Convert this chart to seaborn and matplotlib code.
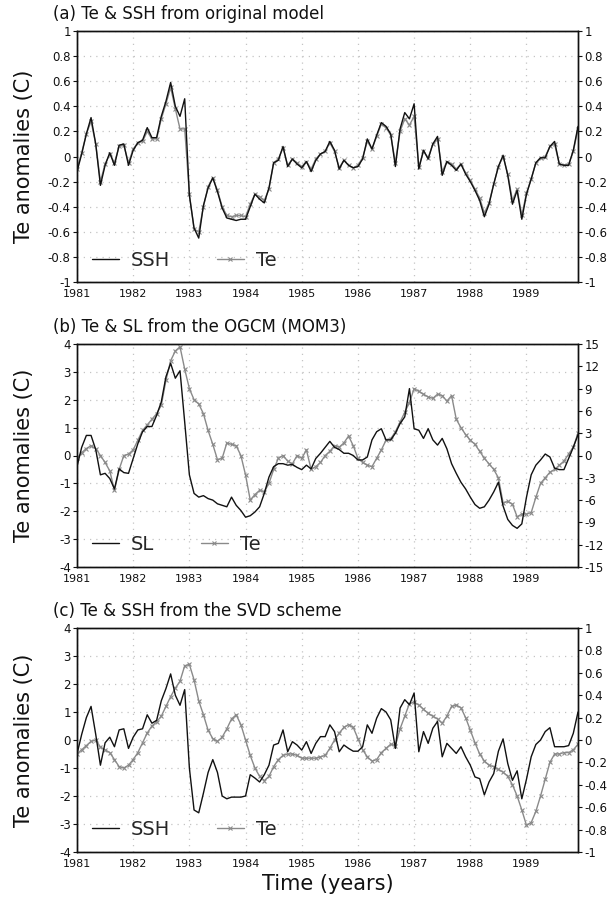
import numpy as np
import pandas as pd
import matplotlib
matplotlib.use("Agg")
import matplotlib.pyplot as plt
from matplotlib.ticker import FuncFormatter
import seaborn as sns

# ---------------- data (monthly, Jan 1981 - Dec 1989) ----------------
year_ticks = [1981, 1982, 1983, 1984, 1985, 1986, 1987, 1988, 1989]
year_labels = [str(y) for y in year_ticks]
month_index = np.arange(108)
time = 1981 + month_index / 12.0

# panel (a): Te & SSH from original model (same scale on both axes)
ssh_a = [-0.12, 0.02, 0.18, 0.31, 0.10, -0.23, -0.07, 0.03, -0.07, 0.09, 0.10, -0.07,
         0.05, 0.11, 0.13, 0.23, 0.15, 0.15, 0.32, 0.44, 0.59, 0.40, 0.32, 0.46,
         -0.31, -0.57, -0.65, -0.39, -0.25, -0.17, -0.28, -0.41, -0.49, -0.50, -0.51, -0.50,
         -0.50, -0.40, -0.30, -0.34, -0.37, -0.25, -0.05, -0.03, 0.08, -0.08, -0.02, -0.06,
         -0.09, -0.04, -0.12, -0.03, 0.02, 0.04, 0.12, 0.05, -0.10, -0.03, -0.07, -0.09,
         -0.08, -0.02, 0.14, 0.06, 0.17, 0.27, 0.24, 0.18, -0.08, 0.22, 0.35, 0.30,
         0.42, -0.10, 0.05, -0.02, 0.10, 0.16, -0.15, -0.04, -0.07, -0.11, -0.06, -0.14,
         -0.20, -0.27, -0.35, -0.48, -0.38, -0.22, -0.08, 0.01, -0.15, -0.38, -0.27, -0.50,
         -0.30, -0.18, -0.05, -0.01, -0.01, 0.08, 0.12, -0.06, -0.07, -0.07, 0.05, 0.24]
te_a = [-0.10, 0.03, 0.18, 0.28, 0.10, -0.20, -0.06, 0.02, -0.05, 0.08, 0.09, -0.05,
        0.06, 0.11, 0.12, 0.20, 0.14, 0.14, 0.30, 0.42, 0.55, 0.38, 0.22, 0.22,
        -0.30, -0.58, -0.60, -0.40, -0.24, -0.17, -0.27, -0.40, -0.47, -0.48, -0.47, -0.47,
        -0.48, -0.38, -0.30, -0.32, -0.35, -0.26, -0.05, -0.02, 0.07, -0.07, -0.02, -0.05,
        -0.08, -0.04, -0.10, -0.02, 0.02, 0.04, 0.11, 0.04, -0.09, -0.03, -0.07, -0.09,
        -0.07, -0.01, 0.12, 0.06, 0.16, 0.26, 0.23, 0.17, -0.05, 0.20, 0.30, 0.25,
        0.32, -0.08, 0.04, -0.01, 0.10, 0.14, -0.12, -0.04, -0.06, -0.10, -0.06, -0.13,
        -0.19, -0.26, -0.33, -0.45, -0.37, -0.22, -0.08, 0.00, -0.14, -0.35, -0.26, -0.47,
        -0.29, -0.18, -0.05, -0.01, 0.00, 0.08, 0.10, -0.06, -0.07, -0.06, 0.04, 0.22]

# panel (b): Te (left axis, C) & SL (right axis) from the OGCM (MOM3)
te_b = [-0.1, 0.1, 0.25, 0.35, 0.25, 0.0, -0.25, -0.55, -1.25, -0.5, 0.0, 0.05,
        0.2, 0.55, 0.9, 1.1, 1.3, 1.5, 1.8, 2.7, 3.4, 3.75, 3.9, 3.1,
        2.4, 2.0, 1.85, 1.5, 0.9, 0.4, -0.15, -0.1, 0.45, 0.4, 0.35, 0.0,
        -0.7, -1.6, -1.4, -1.25, -1.3, -1.0, -0.5, -0.1, 0.0, -0.2, -0.3, 0.0,
        -0.1, 0.2, -0.5, -0.4, -0.25, 0.0, 0.15, 0.35, 0.3, 0.45, 0.7, 0.35,
        -0.1, -0.25, -0.35, -0.4, -0.1, 0.2, 0.55, 0.6, 0.85, 1.2, 1.55, 1.9,
        2.4, 2.3, 2.2, 2.1, 2.05, 2.2, 2.15, 1.95, 2.15, 1.3, 1.0, 0.75,
        0.55, 0.4, 0.15, -0.1, -0.3, -0.5, -0.8, -1.7, -1.65, -1.75, -2.2, -2.1,
        -2.1, -2.05, -1.5, -1.0, -0.8, -0.6, -0.5, -0.35, -0.2, 0.05, 0.3, 0.8]
sl_b = [-1.5, 1.1, 2.7, 2.7, 0.8, -2.6, -2.4, -3.1, -4.5, -1.8, -2.3, -2.4,
        -0.4, 1.6, 3.2, 3.9, 3.9, 5.4, 7.2, 10.6, 12.4, 10.4, 11.4, 4.5,
        -2.6, -5.1, -5.6, -5.4, -5.8, -6.0, -6.5, -6.7, -6.9, -5.6, -6.7, -7.4,
        -8.3, -8.1, -7.6, -6.9, -5.1, -2.9, -1.5, -1.1, -1.1, -1.3, -1.2, -1.6,
        -1.9, -1.3, -1.8, -0.4, 0.3, 1.1, 1.9, 1.1, 0.8, 0.3, 0.3, 0.0,
        -0.6, -0.6, -0.2, 2.1, 3.2, 3.6, 2.1, 2.1, 3.0, 4.3, 5.2, 9.0,
        3.6, 3.4, 2.3, 3.6, 2.1, 1.4, 2.3, 0.9, -1.1, -2.4, -3.6, -4.5,
        -5.6, -6.6, -7.1, -6.9, -6.0, -4.9, -3.6, -6.8, -8.6, -9.4, -9.8, -9.2,
        -5.6, -2.6, -1.3, -0.6, 0.2, -0.2, -1.7, -1.9, -1.9, -0.4, 1.1, 2.8]

# panel (c): Te (left axis, C) & SSH (right axis) from the SVD scheme
te_c = [-0.5, -0.35, -0.2, -0.05, 0.0, -0.25, -0.35, -0.45, -0.7, -0.95, -1.0, -0.9,
        -0.7, -0.45, -0.1, 0.25, 0.5, 0.65, 0.85, 1.2, 1.55, 1.85, 2.1, 2.65,
        2.7, 2.15, 1.4, 0.9, 0.35, 0.05, -0.05, 0.1, 0.4, 0.75, 0.9, 0.55,
        0.0, -0.55, -1.0, -1.3, -1.45, -1.3, -0.95, -0.7, -0.55, -0.5, -0.5, -0.55,
        -0.65, -0.65, -0.65, -0.65, -0.6, -0.55, -0.3, 0.0, 0.25, 0.45, 0.55, 0.45,
        0.05, -0.35, -0.6, -0.75, -0.7, -0.45, -0.3, -0.15, -0.2, 0.4, 0.85, 1.3,
        1.35, 1.25, 1.1, 0.95, 0.85, 0.75, 0.6, 0.85, 1.2, 1.25, 1.15, 0.8,
        0.35, -0.1, -0.5, -0.75, -0.9, -0.95, -1.05, -1.15, -1.3, -1.6, -2.0, -2.5,
        -3.05, -2.95, -2.55, -2.0, -1.4, -0.8, -0.5, -0.5, -0.45, -0.45, -0.35, -0.15]
ssh_c = [-0.125, 0.05, 0.2, 0.3, 0.05, -0.225, -0.025, 0.025, -0.06, 0.09, 0.1, -0.075,
         0.025, 0.09, 0.1, 0.225, 0.15, 0.175, 0.35, 0.46, 0.59, 0.4, 0.31, 0.45,
         -0.25, -0.625, -0.65, -0.475, -0.29, -0.175, -0.29, -0.5, -0.525, -0.51, -0.51, -0.51,
         -0.5, -0.31, -0.34, -0.375, -0.31, -0.225, -0.045, -0.03, 0.09, -0.105, -0.015, -0.045,
         -0.09, -0.015, -0.12, -0.03, 0.03, 0.03, 0.135, 0.075, -0.105, -0.045, -0.075, -0.1,
         -0.1, -0.06, 0.135, 0.06, 0.195, 0.28, 0.25, 0.18, -0.075, 0.285, 0.36, 0.315,
         0.42, -0.105, 0.075, -0.03, 0.105, 0.165, -0.15, -0.03, -0.075, -0.12, -0.06, -0.15,
         -0.225, -0.33, -0.345, -0.49, -0.375, -0.3, -0.1, 0.01, -0.21, -0.36, -0.275, -0.525,
         -0.35, -0.15, -0.04, 0.0, 0.075, 0.11, -0.06, -0.06, -0.06, -0.05, 0.06, 0.25]

titles = ["(a) Te & SSH from original model",
          "(b) Te & SL from the OGCM (MOM3)",
          "(c) Te & SSH from the SVD scheme"]
ylabel_text = "Te anomalies (C)"
xlabel_text = "Time (years)"

# ---------------- figure ----------------
sns.set_theme(style="white")
plt.rcParams["font.family"] = ["DejaVu Sans"]
plt.rcParams["axes.unicode_minus"] = False

W, H = 614, 906
fig = plt.figure(figsize=(W / 100, H / 100), dpi=100)

ax_left_px, ax_right_px = 77, 578
panels_px = [(31, 282), (344, 567), (628, 852)]  # (top, bottom)

BLACK = "#111111"
GRAY = "#8a8a8a"
fmt = FuncFormatter(lambda v, p: ("%g" % round(v, 2)))


def make_axes(top, bottom):
    return fig.add_axes([ax_left_px / W, 1 - bottom / H,
                         (ax_right_px - ax_left_px) / W, (bottom - top) / H])


def style(ax, ax2, ylim, yticks, ylim2, yticks2):
    ax.set_xlim(1981, 1989 + 11 / 12)
    ax.set_ylim(*ylim)
    ax.set_yticks(yticks)
    ax.yaxis.set_major_formatter(fmt)
    ax.set_xticks(year_ticks)
    ax.set_xticklabels(year_labels)
    ax.grid(True, color="#c4c4c4", linestyle=(0, (1, 4)), linewidth=0.9)
    ax.tick_params(axis="x", direction="in", length=4, width=0.8, labelsize=8,
                   pad=5, colors=BLACK)
    ax.tick_params(axis="y", direction="out", length=3, width=0.8, labelsize=8.5,
                   pad=1.5, colors=BLACK)
    ax2.set_ylim(*ylim2)
    ax2.set_yticks(yticks2)
    ax2.yaxis.set_major_formatter(fmt)
    ax2.tick_params(axis="y", direction="out", length=3, width=0.8, labelsize=8.5,
                    pad=1.5, colors=BLACK)
    ax2.grid(False)
    for a in (ax, ax2):
        for s in a.spines.values():
            s.set_color(BLACK)
            s.set_linewidth(1.0)
    ax.set_xlabel("")
    ax.set_ylabel(ylabel_text, fontsize=15, color=BLACK)
    ax.yaxis.set_label_coords(-0.085, 0.5)
    ax2.set_ylabel("")


def legend(ax, h1, l1, h2, l2, y):
    ax.legend([h1, h2], [l1, l2], ncol=2, loc="center left",
              bbox_to_anchor=(0.03, y), frameon=False, fontsize=14,
              handlelength=1.4, handletextpad=0.6, columnspacing=2.4,
              borderpad=0, borderaxespad=0)


def draw(ax, ax2, y_left, y_right):
    df_l = pd.DataFrame({"time": time, "value": y_left})
    df_r = pd.DataFrame({"time": time, "value": y_right})
    sns.lineplot(data=df_l, x="time", y="value", ax=ax, color=GRAY, lw=1.0,
                 marker="x", markersize=3.5, markeredgewidth=0.8, mec=GRAY,
                 estimator=None, legend=False, zorder=2)
    sns.lineplot(data=df_r, x="time", y="value", ax=ax2, color=BLACK, lw=1.0,
                 estimator=None, legend=False, zorder=3)


def title(ax, text):
    ax.set_title(text, loc="left", fontsize=12, x=-0.047, y=1.0, pad=9, color=BLACK)


# panel (a)
ax = make_axes(*panels_px[0])
ax2 = ax.twinx()
draw(ax, ax2, te_a, ssh_a)
lims_a = [-1, -0.8, -0.6, -0.4, -0.2, 0, 0.2, 0.4, 0.6, 0.8, 1]
style(ax, ax2, (-1, 1), lims_a, (-1, 1), lims_a)
legend(ax, ax2.lines[0], "SSH", ax.lines[0], "Te", 0.085)
title(ax, titles[0])

# panel (b)
ax = make_axes(*panels_px[1])
ax2 = ax.twinx()
draw(ax, ax2, te_b, sl_b)
style(ax, ax2, (-4, 4), [-4, -3, -2, -1, 0, 1, 2, 3, 4],
      (-15, 15), [-15, -12, -9, -6, -3, 0, 3, 6, 9, 12, 15])
legend(ax, ax2.lines[0], "SL", ax.lines[0], "Te", 0.1)
title(ax, titles[1])

# panel (c)
ax = make_axes(*panels_px[2])
ax2 = ax.twinx()
draw(ax, ax2, te_c, ssh_c)
style(ax, ax2, (-4, 4), [-4, -3, -2, -1, 0, 1, 2, 3, 4],
      (-1, 1), lims_a)
legend(ax, ax2.lines[0], "SSH", ax.lines[0], "Te", 0.1)
title(ax, titles[2])

fig.text((ax_left_px + ax_right_px) / 2 / W, 1 - 884 / H, xlabel_text,
         ha="center", va="center", fontsize=15, color=BLACK)

fig.savefig("out.png", dpi=100)
